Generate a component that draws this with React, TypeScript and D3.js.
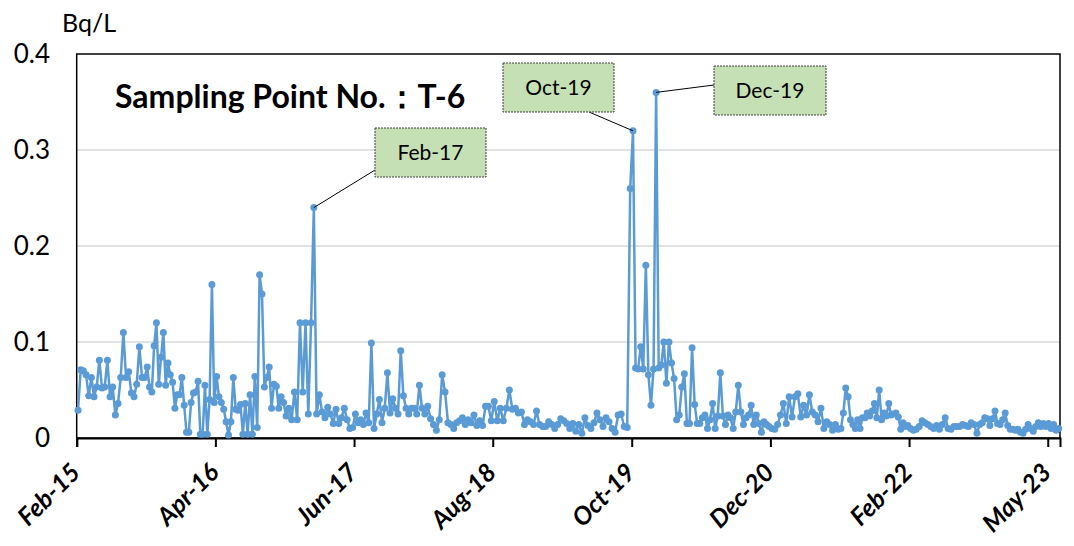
import { useEffect, useRef } from "react";
import * as d3 from "d3";

// x axis: tick labels and the dates they sit on
const tickLabels = ["Feb-15", "Apr-16", "Jun-17", "Aug-18", "Oct-19", "Dec-20", "Feb-22", "May-23"];
const tickDates = ["2015-02-01", "2016-04-06", "2017-06-10", "2018-08-14", "2019-10-19", "2020-12-22", "2022-02-25", "2023-05-01"];
const startDate = "2015-02-01";
const endDate = "2023-06-08";
const yTicks = [0, 0.1, 0.2, 0.3, 0.4];

// measured values (Bq/L), one array per half of each tick interval
const h01 = [0.029, 0.071, 0.07, 0.066, 0.044, 0.063, 0.043, 0.053, 0.081, 0.052, 0.053, 0.081, 0.043, 0.053, 0.024, 0.036, 0.063, 0.11, 0.063, 0.069, 0.047, 0.043, 0.056, 0.095, 0.063, 0.063];
const h02 = [0.074, 0.053, 0.048, 0.096, 0.12, 0.056, 0.084, 0.11, 0.055, 0.078, 0.066, 0.058, 0.031, 0.045, 0.045, 0.063, 0.034, 0.006, 0.006, 0.037, 0.047, 0.048, 0.059, 0.004, 0.004, 0.055, 0.004, 0.04, 0.16, 0.037];
const h03 = [0.064, 0.043, 0.037, 0.03, 0.017, 0.003, 0.017, 0.063, 0.03, 0.029, 0.035, 0.004, 0.036, 0.004, 0.045, 0.004, 0.064, 0.011, 0.17, 0.15, 0.053, 0.063, 0.074, 0.031, 0.056, 0.054, 0.031, 0.043, 0.037];
const h04 = [0.023, 0.031, 0.019, 0.048, 0.019, 0.12, 0.048, 0.12, 0.025, 0.12, 0.24, 0.025, 0.045, 0.027, 0.021, 0.032, 0.025, 0.015, 0.03, 0.015, 0.021, 0.031, 0.019, 0.01, 0.011];
const h05 = [0.025, 0.016, 0.019, 0.014, 0.026, 0.016, 0.099, 0.01, 0.025, 0.04, 0.016, 0.031, 0.068, 0.026, 0.041, 0.031, 0.025, 0.091, 0.044, 0.031, 0.025, 0.031, 0.031, 0.025, 0.055, 0.031];
const h06 = [0.025, 0.033, 0.02, 0.014, 0.008, 0.019, 0.066, 0.048, 0.016, 0.014, 0.01, 0.016, 0.018, 0.021, 0.014, 0.019, 0.016, 0.024, 0.013, 0.018, 0.013, 0.033, 0.033, 0.018];
const h07 = [0.038, 0.018, 0.031, 0.018, 0.031, 0.05, 0.03, 0.031, 0.026, 0.027, 0.014, 0.019, 0.017, 0.014, 0.028, 0.014, 0.012, 0.012, 0.017, 0.014, 0.01, 0.014, 0.02];
const h08 = [0.018, 0.015, 0.01, 0.015, 0.007, 0.014, 0.005, 0.021, 0.013, 0.01, 0.016, 0.026, 0.019, 0.012, 0.021, 0.017, 0.01, 0.006, 0.024, 0.025, 0.012, 0.011, 0.26];
const h09 = [0.32, 0.073, 0.072, 0.095, 0.072, 0.18, 0.066, 0.034, 0.072, 0.36, 0.073, 0.076, 0.1, 0.057, 0.1, 0.078, 0.062, 0.019, 0.024, 0.053, 0.067, 0.015, 0.015, 0.094, 0.035, 0.015, 0.015];
const h10 = [0.021, 0.024, 0.01, 0.019, 0.036, 0.01, 0.023, 0.068, 0.023, 0.014, 0.024, 0.021, 0.01, 0.027, 0.055, 0.027, 0.014, 0.021, 0.024, 0.034, 0.014, 0.024, 0.015, 0.006, 0.017, 0.014, 0.012];
const h11 = [0.01, 0.009, 0.014, 0.024, 0.036, 0.015, 0.043, 0.022, 0.043, 0.046, 0.022, 0.034, 0.024, 0.045, 0.027, 0.024, 0.017, 0.031, 0.01, 0.017, 0.014, 0.008, 0.014, 0.009];
const h12 = [0.01, 0.026, 0.052, 0.043, 0.019, 0.014, 0.01, 0.019, 0.01, 0.021, 0.021, 0.026, 0.023, 0.028, 0.036, 0.021, 0.05, 0.019, 0.026, 0.023, 0.036, 0.024, 0.025, 0.026, 0.022, 0.009, 0.016, 0.012, 0.013];
const h13 = [0.01, 0.008, 0.009, 0.012, 0.018, 0.016, 0.014, 0.012, 0.01, 0.013, 0.009, 0.014, 0.021, 0.01, 0.009, 0.012, 0.012, 0.012, 0.014, 0.013, 0.012, 0.016, 0.014, 0.005];
const h14 = [0.014, 0.016, 0.021, 0.02, 0.013, 0.02, 0.028, 0.015, 0.014, 0.019, 0.026, 0.013, 0.009, 0.009, 0.008, 0.009, 0.006, 0.005, 0.009, 0.014, 0.01, 0.007, 0.012, 0.016, 0.012, 0.015, 0.012, 0.015, 0.01, 0.014, 0.008, 0.01];

const halves = [h01, h02, h03, h04, h05, h06, h07, h08, h09, h10, h11, h12, h13, h14];

// labelled peaks
const callouts = [
  { label: "Feb-17", value: 0.24, box: [375, 128, 111, 49], anchor: [375, 170] },
  { label: "Oct-19", value: 0.32, box: [503, 63, 111, 49], anchor: [589, 112] },
  { label: "Dec-19", value: 0.36, box: [714, 66, 112, 49], anchor: [714, 85] },
];

export default function App() {
  const ref = useRef<SVGSVGElement>(null);

  useEffect(() => {
    if (!ref.current) return;
    const svg = d3.select(ref.current);
    svg.selectAll("*").remove();

    const width = 1074;
    const height = 546;
    const left = 76.7;
    const right = 1060;
    const top = 54;
    const bottom = 438;
    const font = "Lato, 'Open Sans', sans-serif";
    const blue = "#5b9bd5";

    const parse = d3.timeParse("%Y-%m-%d");
    const ticks = tickDates.map(d => parse(d)!);

    const x = d3.scaleTime()
      .domain([parse(startDate)!, parse(endDate)!])
      .range([left, right]);

    const y = d3.scaleLinear()
      .domain([0, 0.4])
      .range([bottom, top]);

    // segment bounds: each tick, the middle of each interval, then the end
    const bounds: Date[] = [];
    for (let i = 0; i < ticks.length - 1; i++) {
      bounds.push(ticks[i]);
      bounds.push(new Date((+ticks[i] + +ticks[i + 1]) / 2));
    }
    bounds.push(parse(endDate)!);

    const data: { date: Date; value: number }[] = [];
    halves.forEach((vals, k) => {
      const s = +bounds[k];
      const e = +bounds[k + 1];
      vals.forEach((v, i) => {
        data.push({ date: new Date(s + ((i + 0.5) / vals.length) * (e - s)), value: v });
      });
    });

    svg.attr("viewBox", [0, 0, width, height])
      .attr("width", width)
      .attr("height", height);

    svg.append("rect")
      .attr("width", width)
      .attr("height", height)
      .attr("fill", "#fff");

    // gridlines
    svg.append("g")
      .selectAll("line")
      .data(yTicks.filter(t => t > 0 && t < 0.4))
      .join("line")
      .attr("x1", left)
      .attr("x2", right)
      .attr("y1", d => y(d))
      .attr("y2", d => y(d))
      .attr("stroke", "#d9d9d9")
      .attr("stroke-width", 1.5);

    // y labels
    svg.append("g")
      .selectAll("text")
      .data(yTicks)
      .join("text")
      .attr("x", 50)
      .attr("y", d => y(d))
      .attr("dy", "0.36em")
      .attr("text-anchor", "end")
      .attr("font-family", font)
      .attr("font-size", 26)
      .attr("fill", "#000")
      .text(d => (d === 0 ? "0" : d.toFixed(1)));

    svg.append("text")
      .attr("x", 62)
      .attr("y", 32)
      .attr("font-family", font)
      .attr("font-size", 25)
      .text("Bq/L");

    // plot frame
    svg.append("rect")
      .attr("x", left)
      .attr("y", top)
      .attr("width", right - left)
      .attr("height", bottom - top)
      .attr("fill", "none")
      .attr("stroke", "#000")
      .attr("stroke-width", 1.5);

    // x axis
    const xAxis = svg.append("g")
      .attr("transform", `translate(0,${bottom})`)
      .call(d3.axisBottom(x).tickValues(ticks).tickSize(9).tickFormat(() => ""));
    xAxis.select(".domain").attr("stroke", "#000").attr("stroke-width", 2);
    xAxis.selectAll(".tick line").attr("stroke", "#000").attr("stroke-width", 2);

    svg.append("g")
      .selectAll("text")
      .data(ticks)
      .join("text")
      .attr("transform", d => `translate(${x(d) + 5},${bottom + 36}) rotate(-45)`)
      .attr("text-anchor", "end")
      .attr("font-family", font)
      .attr("font-size", 25)
      .attr("font-weight", "bold")
      .attr("font-style", "italic")
      .text((_, i) => tickLabels[i]);

    // series
    const line = d3.line<{ date: Date; value: number }>()
      .x(d => x(d.date))
      .y(d => y(d.value));

    svg.append("path")
      .datum(data)
      .attr("fill", "none")
      .attr("stroke", blue)
      .attr("stroke-width", 2.5)
      .attr("stroke-linejoin", "round")
      .attr("d", line);

    svg.append("g")
      .attr("fill", blue)
      .selectAll("circle")
      .data(data)
      .join("circle")
      .attr("cx", d => x(d.date))
      .attr("cy", d => y(d.value))
      .attr("r", 3.5);

    // title
    svg.append("text")
      .attr("x", 115)
      .attr("y", 108)
      .attr("font-family", font)
      .attr("font-size", 32)
      .attr("font-weight", "bold")
      .text("Sampling Point No.：T-6");

    // callouts
    callouts.forEach(c => {
      const p = data.find(d => d.value === c.value)!;
      const [bx, by, bw, bh] = c.box;
      svg.append("line")
        .attr("x1", x(p.date))
        .attr("y1", y(p.value))
        .attr("x2", c.anchor[0])
        .attr("y2", c.anchor[1])
        .attr("stroke", "#000")
        .attr("stroke-width", 1);
      svg.append("rect")
        .attr("x", bx)
        .attr("y", by)
        .attr("width", bw)
        .attr("height", bh)
        .attr("fill", "#c5e0b4")
        .attr("stroke", "#404040")
        .attr("stroke-width", 1)
        .attr("stroke-dasharray", "2,1");
      svg.append("text")
        .attr("x", bx + bw / 2)
        .attr("y", by + bh / 2)
        .attr("dy", "0.36em")
        .attr("text-anchor", "middle")
        .attr("font-family", font)
        .attr("font-size", 21)
        .text(c.label);
    });
  }, []);

  return (
    <svg ref={ref} style={{ position: "absolute", left: 0, top: 0, display: "block" }}></svg>
  );
}
